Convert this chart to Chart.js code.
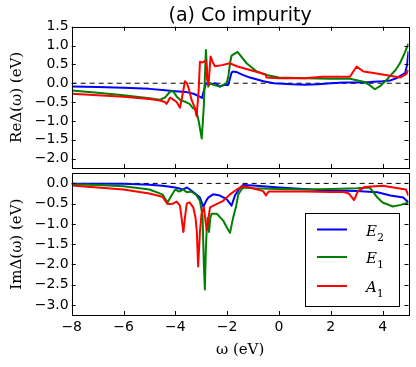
<!DOCTYPE html>
<html>
<head>
<meta charset="utf-8">
<script src="https://cdn.jsdelivr.net/npm/chart.js@4.4.1/dist/chart.umd.min.js"></script>
<style>
  html, body { margin: 0; padding: 0; background: #fff; }
  #wrap { position: relative; width: 416px; height: 367px; }
  canvas { position: absolute; left: 0; }
  #reChart { top: 0; }
  #imChart { top: 170px; }
</style>
</head>
<body>
<div id="wrap">
  <canvas id="reChart" width="416" height="170"></canvas>
  <canvas id="imChart" width="416" height="197"></canvas>
</div>
<script>
// tick values
const omegaTicks = [-8, -6, -4, -2, 0, 2, 4];
const reTicks = [-2.0, -1.5, -1.0, -0.5, 0.0, 0.5, 1.0, 1.5];
const imTicks = [-3.0, -2.5, -2.0, -1.5, -1.0, -0.5, 0.0];

// Re Delta(omega) - top panel
const reOmegaE2 = [-8, -7, -6, -5, -4.5, -4, -3.6, -3.3, -3.1, -2.97, -2.9, -2.82, -2.6, -2.45, -2.28, -2.1, -1.96, -1.83, -1.77, -1.65, -1.4, -1.12, -0.6, -0.2, 0.5, 1.0, 1.5, 2.0, 2.5, 3.0, 3.5, 4.0, 4.28, 4.55, 4.87, 4.95, 5.0];
const reE2 = [-0.09, -0.1, -0.12, -0.15, -0.18, -0.21, -0.23, -0.28, -0.34, -0.39, -0.2, 0.0, -0.02, 0.0, -0.09, -0.04, -0.05, 0.28, 0.31, 0.3, 0.22, 0.15, 0.05, 0.0, -0.03, -0.04, -0.03, 0.0, 0.02, 0.02, 0.03, 0.05, 0.07, 0.14, 0.27, 0.5, 0.85];

const reOmegaE1 = [-8, -7, -6, -5, -4.6, -4.4, -4.2, -4.08, -3.95, -3.8, -3.6, -3.45, -3.32, -3.2, -3.1, -2.98, -2.9, -2.82, -2.78, -2.73, -2.67, -2.5, -2.28, -2.02, -1.95, -1.89, -1.83, -1.6, -1.25, -0.86, -0.48, 0, 1, 2, 2.74, 3.0, 3.3, 3.5, 3.7, 3.9, 4.1, 4.3, 4.5, 4.67, 4.85, 4.95, 5.0];
const reE1 = [-0.19, -0.25, -0.32, -0.4, -0.44, -0.38, -0.22, -0.22, -0.35, -0.45, -0.5, -0.55, -0.66, -0.7, -1.0, -1.47, -0.6, 0.88, 0.4, -0.09, 0.0, -0.05, -0.09, 0.0, 0.2, 0.53, 0.73, 0.83, 0.53, 0.31, 0.22, 0.15, 0.13, 0.12, 0.12, 0.08, 0.03, -0.05, -0.16, -0.08, 0.05, 0.2, 0.35, 0.53, 0.8, 0.97, 1.05];

const reOmegaA1 = [-8, -7, -6, -5, -4.6, -4.4, -4.34, -4.2, -4.05, -3.95, -3.82, -3.72, -3.63, -3.55, -3.48, -3.37, -3.25, -3.18, -3.1, -3.05, -2.95, -2.88, -2.83, -2.77, -2.72, -2.64, -2.55, -2.47, -2.2, -1.9, -1.63, -1.12, -0.6, -0.52, -0.48, 0, 1, 1.7, 2.74, 2.87, 3.0, 3.26, 3.65, 4.28, 4.67, 4.92, 5.0];
const reA1 = [-0.28, -0.32, -0.36, -0.42, -0.46, -0.5, -0.55, -0.38, -0.45, -0.5, -0.65, -0.3, 0.05, 0.0, -0.15, -0.45, -0.65, -0.88, -0.2, 0.57, 0.55, 0.58, 0.6, 0.1, -0.05, 0.71, 0.55, 0.45, 0.48, 0.53, 0.45, 0.35, 0.25, 0.24, 0.15, 0.13, 0.13, 0.17, 0.17, 0.31, 0.44, 0.31, 0.27, 0.2, 0.15, 0.25, 0.35];

// Im Delta(omega) - bottom panel
const imOmegaE2 = [-8, -6, -5, -4.5, -4, -3.7, -3.55, -3.44, -3.2, -3.05, -2.92, -2.8, -2.73, -2.54, -2.28, -2.02, -1.83, -1.7, -1.5, -1.38, -1.0, 0, 0.8, 1.7, 3.0, 3.8, 4.3, 4.8, 5.0];
const imE2 = [-0.01, -0.01, -0.03, -0.06, -0.1, -0.15, -0.1, -0.15, -0.27, -0.35, -0.58, -0.42, -0.35, -0.27, -0.3, -0.39, -0.55, -0.3, -0.1, -0.04, -0.05, -0.1, -0.13, -0.17, -0.19, -0.22, -0.3, -0.35, -0.47];

const imOmegaE1 = [-8, -7, -6, -5, -4.5, -4.3, -4.15, -4.0, -3.85, -3.7, -3.55, -3.4, -3.2, -3.05, -2.95, -2.9, -2.86, -2.82, -2.79, -2.75, -2.7, -2.65, -2.6, -2.4, -2.15, -2.0, -1.89, -1.77, -1.65, -1.57, -1.45, -1.38, -1.0, 0, 1, 2, 3, 3.5, 3.8, 4.0, 4.4, 4.7, 5.0];
const imE1 = [-0.02, -0.04, -0.07, -0.15, -0.27, -0.47, -0.3, -0.15, -0.2, -0.15, -0.22, -0.2, -0.28, -0.43, -0.8, -2.0, -2.62, -1.6, -1.16, -0.85, -1.2, -0.85, -0.75, -0.75, -0.92, -1.1, -1.22, -0.85, -0.55, -0.27, -0.15, -0.1, -0.12, -0.14, -0.15, -0.14, -0.12, -0.1, -0.35, -0.47, -0.57, -0.53, -0.47];

const imOmegaA1 = [-8, -7, -6, -5, -4.5, -4.3, -4.1, -3.95, -3.82, -3.75, -3.69, -3.63, -3.56, -3.45, -3.31, -3.22, -3.17, -3.12, -3.05, -2.99, -2.9, -2.79, -2.72, -2.66, -2.41, -2.15, -1.89, -1.63, -1.38, -1.12, -0.61, -0.5, -0.4, 0, 1, 2, 2.5, 2.7, 2.9, 3.05, 3.3, 4.0, 4.6, 4.9, 5.0];
const imA1 = [-0.05, -0.1, -0.15, -0.25, -0.33, -0.51, -0.5, -0.45, -0.55, -0.9, -1.2, -0.85, -0.5, -0.47, -0.59, -0.85, -1.2, -2.05, -1.2, -0.75, -0.59, -1.16, -0.85, -0.59, -0.51, -0.43, -0.27, -0.15, -0.07, -0.1, -0.19, -0.3, -0.2, -0.2, -0.2, -0.21, -0.21, -0.25, -0.41, -0.19, -0.09, -0.06, -0.12, -0.15, -0.3];

const zeroOmega = [-8, 5];
const zeroLine = [0, 0];

const seriesNames = ['E2', 'E1', 'A1'];
const seriesColors = ['#0000ff', '#008000', '#ff0000'];

// pair omega with values for the line datasets
function toPoints(xs, ys) {
  return xs.map((x, i) => ({ x: x, y: ys[i] }));
}

function fmt(v, digits) {
  return v.toFixed(digits).replace('-', '\u2212');
}

function makeDatasets(omegas, values) {
  const sets = [];
  for (let i = 0; i < seriesNames.length; i++) {
    sets.push({
      label: seriesNames[i],
      data: toPoints(omegas[i], values[i]),
      borderColor: seriesColors[i],
      borderWidth: 2,
      pointRadius: 0,
      tension: 0,
      borderJoinStyle: 'round',
      order: seriesNames.length - 1 - i
    });
  }
  sets.push({
    label: 'zero',
    data: toPoints(zeroOmega, zeroLine),
    borderColor: '#000',
    borderWidth: 1,
    borderDash: [5, 4],
    pointRadius: 0,
    order: 5
  });
  return sets;
}

// frame with inward ticks on all four sides, like the classic matplotlib look
const framePlugin = {
  id: 'frame',
  afterDraw(chart) {
    const ctx = chart.ctx;
    const a = chart.chartArea;
    const xs = chart.scales.x;
    const ys = chart.scales.y;
    const yTicks = chart.options.plugins.frame.yTicks;
    ctx.save();
    ctx.strokeStyle = '#000';
    ctx.lineWidth = 1;
    ctx.beginPath();
    omegaTicks.forEach(v => {
      const px = Math.round(xs.getPixelForValue(v)) + 0.5;
      ctx.moveTo(px, a.bottom); ctx.lineTo(px, a.bottom - 4);
      ctx.moveTo(px, a.top); ctx.lineTo(px, a.top + 4);
    });
    yTicks.forEach(v => {
      const py = Math.round(ys.getPixelForValue(v)) + 0.5;
      ctx.moveTo(a.left, py); ctx.lineTo(a.left + 4, py);
      ctx.moveTo(a.right, py); ctx.lineTo(a.right - 4, py);
    });
    ctx.stroke();
    ctx.strokeRect(Math.round(a.left) + 0.5, Math.round(a.top) + 0.5,
      Math.round(a.right - a.left), Math.round(a.bottom - a.top));
    ctx.restore();
  }
};

// panel title centred over the plot area
const titlePlugin = {
  id: 'panelTitle',
  afterDraw(chart) {
    const opts = chart.options.plugins.panelTitle;
    if (!opts || !opts.text) return;
    const ctx = chart.ctx;
    const a = chart.chartArea;
    ctx.save();
    ctx.fillStyle = '#000';
    ctx.font = '19px "DejaVu Sans"';
    ctx.textAlign = 'center';
    ctx.textBaseline = 'middle';
    ctx.fillText(opts.text, (a.left + a.right) / 2, 16);
    ctx.restore();
  }
};

// boxed legend inside the lower panel, with E_2 style subscripts
const legendPlugin = {
  id: 'boxLegend',
  afterDraw(chart) {
    const opts = chart.options.plugins.boxLegend;
    if (!opts || !opts.show) return;
    const ctx = chart.ctx;
    const x0 = 305, y0 = 43, w = 94, h = 93;
    ctx.save();
    ctx.fillStyle = '#fff';
    ctx.fillRect(x0, y0, w, h);
    ctx.strokeStyle = '#000';
    ctx.lineWidth = 1;
    ctx.strokeRect(x0 + 0.5, y0 + 0.5, w, h);
    const rows = [59.5, 87, 116];
    seriesNames.forEach((name, i) => {
      const y = rows[i];
      ctx.strokeStyle = seriesColors[i];
      ctx.lineWidth = 2;
      ctx.beginPath();
      ctx.moveTo(317, y);
      ctx.lineTo(347, y);
      ctx.stroke();
      ctx.fillStyle = '#000';
      ctx.textBaseline = 'alphabetic';
      ctx.font = 'italic 15px "DejaVu Serif"';
      ctx.fillText(name[0], 366, y + 6);
      const wMain = ctx.measureText(name[0]).width;
      ctx.font = '11px "DejaVu Serif"';
      ctx.fillText(name.slice(1), 366 + wMain, y + 11);
    });
    ctx.restore();
  }
};

function makeOptions(cfg) {
  return {
    responsive: false,
    animation: false,
    events: [],
    layout: { padding: { top: cfg.padTop, right: 7.5, left: 0, bottom: 0 } },
    plugins: {
      legend: { display: false },
      tooltip: { enabled: false },
      frame: { yTicks: cfg.yTicks },
      panelTitle: { text: cfg.title },
      boxLegend: { show: cfg.legend }
    },
    scales: {
      x: {
        type: 'linear',
        min: -8,
        max: 5,
        grid: { display: false, drawTicks: false },
        border: { display: false },
        afterBuildTicks: s => { s.ticks = omegaTicks.map(v => ({ value: v })); },
        afterFit: s => { s.height = cfg.xHeight; s.paddingLeft = 0; s.paddingRight = 0; },
        ticks: {
          display: cfg.xLabels,
          padding: 4,
          color: '#000',
          font: { family: 'DejaVu Sans', size: 14 },
          maxRotation: 0,
          callback: v => fmt(v, 0)
        },
        title: {
          display: cfg.xLabels,
          text: '\u03c9 (eV)',
          color: '#000',
          font: { family: 'DejaVu Serif', size: 15 },
          padding: { top: 0, bottom: 8 }
        }
      },
      y: {
        min: cfg.yMin,
        max: cfg.yMax,
        grid: { display: false, drawTicks: false },
        border: { display: false },
        afterBuildTicks: s => { s.ticks = cfg.yTicks.map(v => ({ value: v })); },
        afterFit: s => { s.width = 71.7; s.paddingTop = 0; s.paddingBottom = 0; },
        ticks: {
          padding: 3,
          color: '#000',
          font: { family: 'DejaVu Sans', size: 14 },
          callback: v => fmt(v, 1)
        },
        title: {
          display: true,
          text: cfg.yTitle,
          color: '#000',
          font: { family: 'DejaVu Serif', size: 15 },
          padding: { top: 8, bottom: 0 }
        }
      }
    }
  };
}

new Chart(document.getElementById('reChart'), {
  type: 'line',
  data: { datasets: makeDatasets([reOmegaE2, reOmegaE1, reOmegaA1], [reE2, reE1, reA1]) },
  options: makeOptions({
    padTop: 26.7, xHeight: 2, xLabels: false,
    yMin: -2.25, yMax: 1.5, yTicks: reTicks,
    yTitle: 'Re\u0394(\u03c9) (eV)', title: '(a) Co impurity', legend: false
  }),
  plugins: [framePlugin, titlePlugin]
});

new Chart(document.getElementById('imChart'), {
  type: 'line',
  data: { datasets: makeDatasets([imOmegaE2, imOmegaE1, imOmegaA1], [imE2, imE1, imA1]) },
  options: makeOptions({
    padTop: 3.3, xHeight: 52, xLabels: true,
    yMin: -3.25, yMax: 0.25, yTicks: imTicks,
    yTitle: 'Im\u0394(\u03c9) (eV)', title: '', legend: true
  }),
  plugins: [framePlugin, legendPlugin]
});
</script>
</body>
</html>
